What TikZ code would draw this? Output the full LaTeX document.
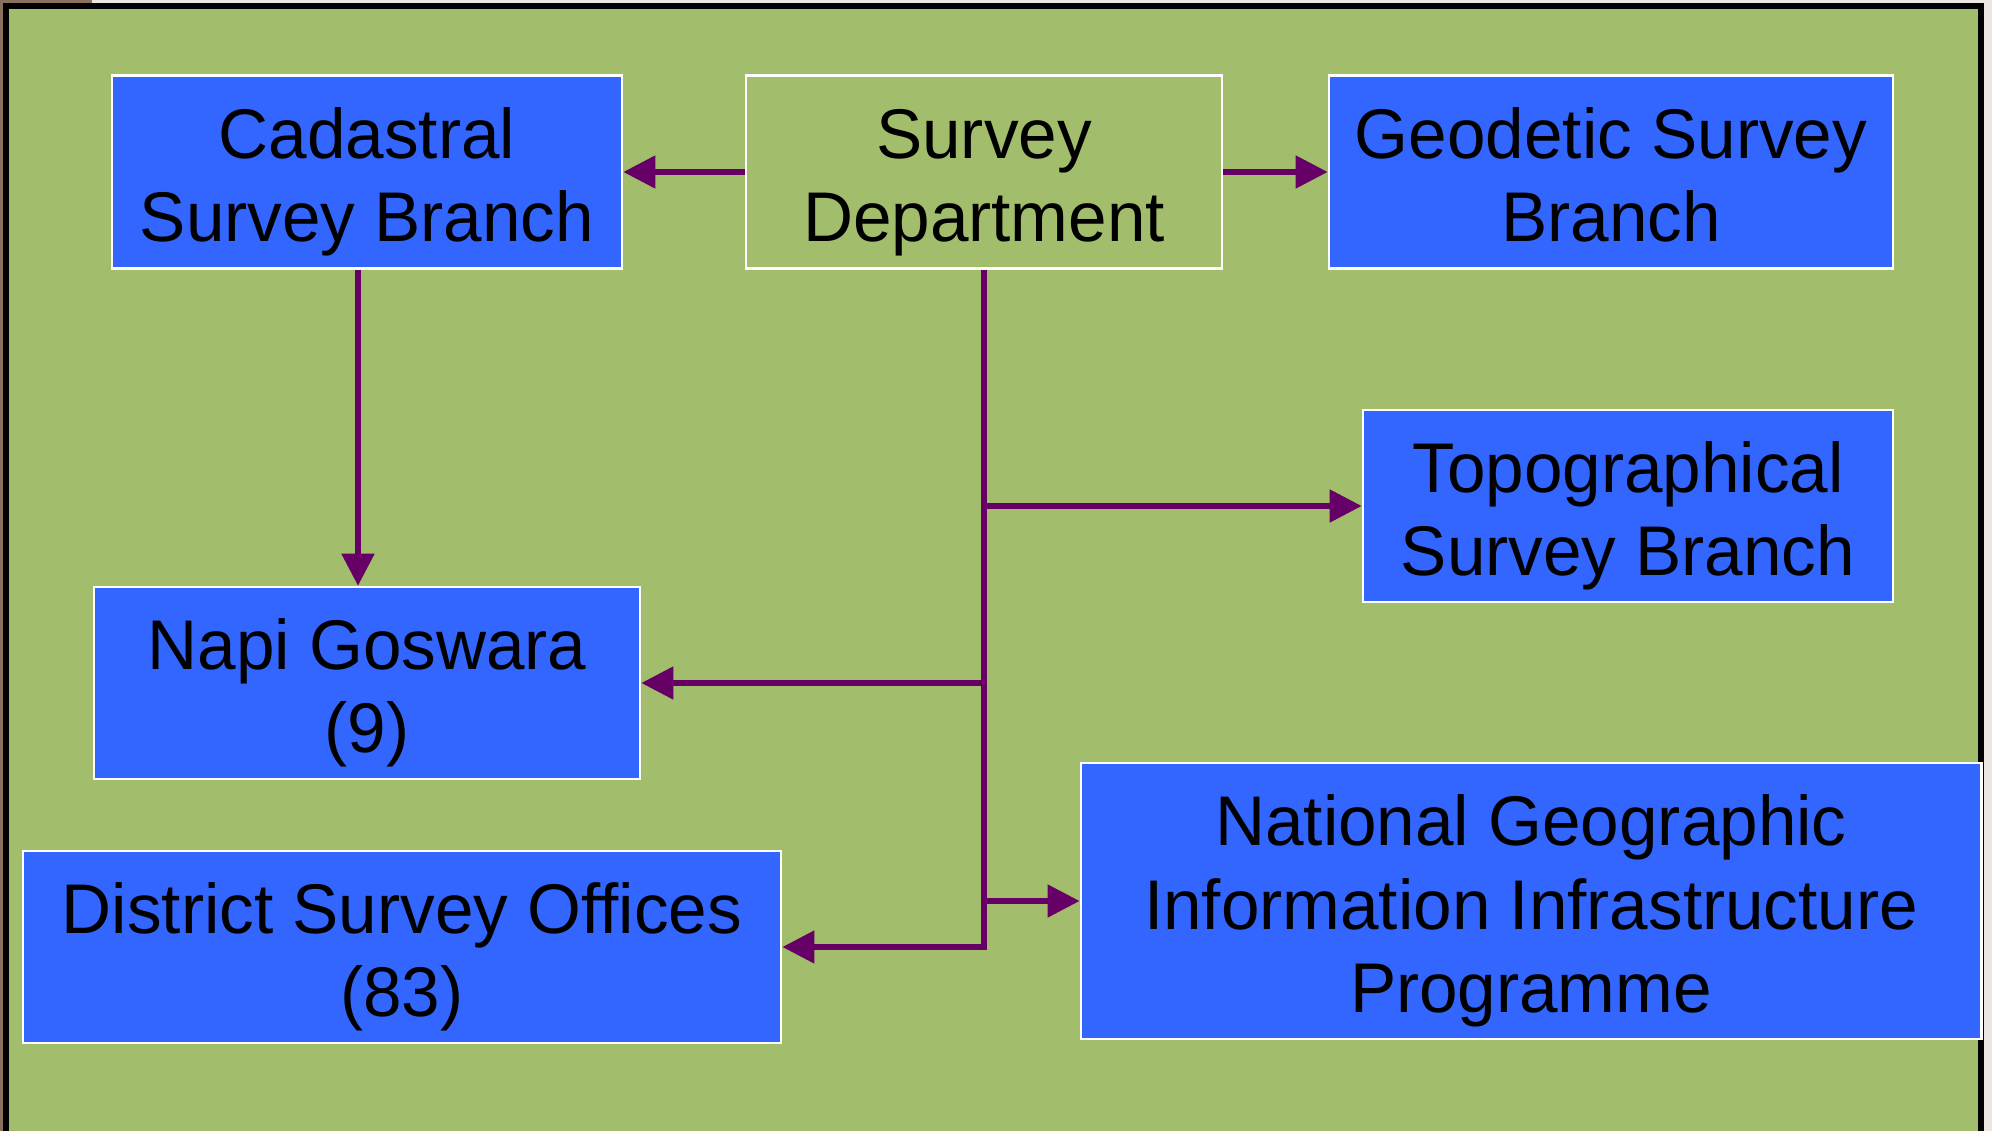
\documentclass[tikz,border=0pt]{standalone}
\usepackage{fontspec}
\setmainfont{Liberation Sans}[FakeStretch=0.985]
\usetikzlibrary{arrows.meta}

\definecolor{panelgreen}{RGB}{162,189,107}
\definecolor{boxblue}{RGB}{51,102,255}
\definecolor{linkpurple}{RGB}{102,0,102}
\definecolor{pagegray}{RGB}{234,230,226}
\definecolor{framebrown}{RGB}{140,112,94}

\tikzset{
  unit/.style={draw=white, line width=0.7pt, align=center, inner sep=0pt,
    text height=39.8pt, text depth=0pt,
    font=\fontsize{20}{23.8}\selectfont, text=black},
  bluebox/.style={unit, fill=boxblue},
  headbox/.style={unit, fill=panelgreen},
  link/.style={draw=linkpurple, line width=1.45pt,
    -{Triangle[length=0.32cm,width=0.32cm]}},
}

\begin{document}
\begin{tikzpicture}[x=0.01cm, y=-0.01cm]
    \useasboundingbox (0,0) rectangle (1992,1131);
    % page behind the slide
    \fill[pagegray] (0,0) rectangle (1992,1131);
    \fill[framebrown] (0,0) rectangle (5,1131);
    \fill[framebrown] (0,0) rectangle (92,5);
    \filldraw[fill=panelgreen, draw=black, line width=1.6pt] (6,6) -- (1981,6) -- (1981,1140) -- (6,1140) -- cycle;

    % boxes
    \node[headbox, minimum width=4.76cm, minimum height=1.93cm] (sd) at (984,172) {Survey\\Department};
    \node[bluebox, minimum width=5.10cm, minimum height=1.93cm] (cad) at (367,172) {Cadastral\\Survey Branch};
    \node[bluebox, minimum width=5.64cm, minimum height=1.93cm] (geo) at (1611,172) {Geodetic Survey\\Branch};
    \node[bluebox, minimum width=5.30cm, minimum height=1.92cm] (topo) at (1628,506) {Topographical\\Survey Branch};
    \node[bluebox, minimum width=5.46cm, minimum height=1.92cm] (napi) at (367,683) {Napi Goswara\\(9)};
    \node[bluebox, minimum width=7.58cm, minimum height=1.92cm] (dist) at (402,947) {District Survey Offices\\(83)};
    \node[bluebox, minimum width=9.00cm, minimum height=2.76cm, text height=63.6pt] (ngii) at (1531,901) {National Geographic\\Information Infrastructure\\Programme};

    % connectors
    \draw[link] (sd.west) -- (cad.east);
    \draw[link] (sd.east) -- (geo.west);
    \draw[link] ([xshift=-0.09cm]cad.south) -- ([xshift=-0.09cm]napi.north);
    \draw[link] (sd.south) |- (dist.east);
    \draw[link] (sd.south |- topo.west) -- (topo.west);
    \draw[link] (sd.south |- napi.east) -- (napi.east);
    \draw[link] (sd.south |- ngii.west) -- (ngii.west);
  \end{tikzpicture}
\end{document}
